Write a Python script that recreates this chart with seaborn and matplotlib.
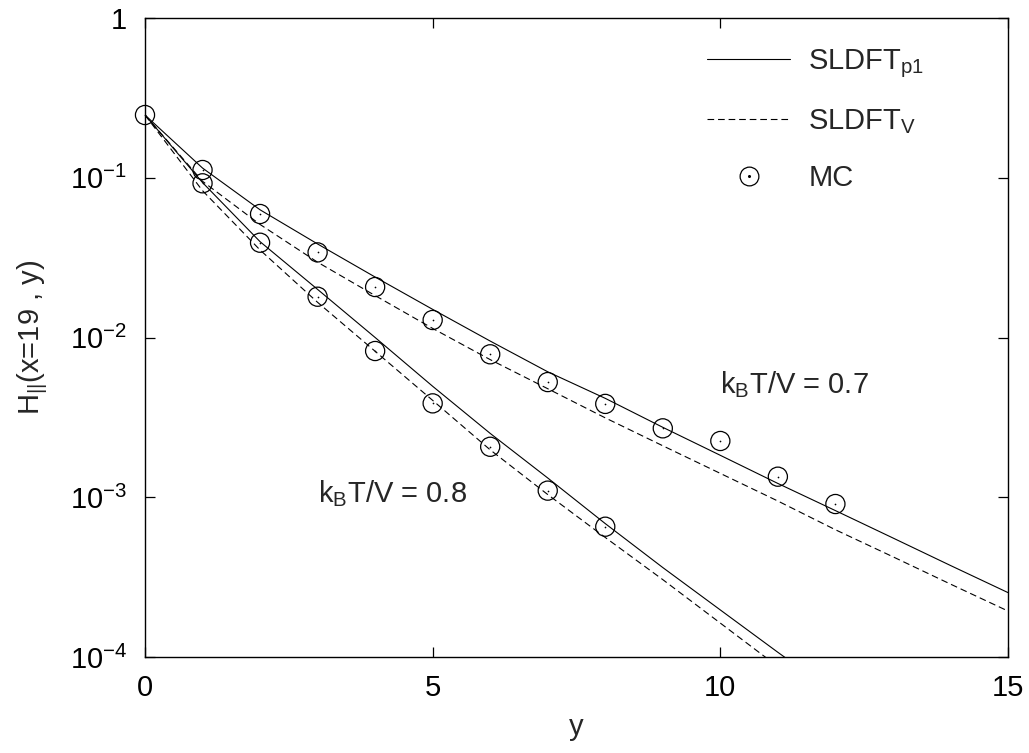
import numpy as np
import pandas as pd
import matplotlib
matplotlib.use("Agg")
import matplotlib.pyplot as plt
import seaborn as sns
from matplotlib.lines import Line2D
from matplotlib.legend_handler import HandlerTuple

# ---------------- data ----------------
y_07 = list(range(0, 16))
p1_07 = [0.247, 0.115, 0.063, 0.0385, 0.0239, 0.0150, 0.0095, 0.0061, 0.00416,
         0.00274, 0.00183, 0.00122, 0.000825, 0.000556, 0.000374, 0.000253]
v_07 = [0.247, 0.095, 0.051, 0.0296, 0.0183, 0.0114, 0.00727, 0.00478, 0.00314,
        0.0021, 0.00141, 0.000947, 0.000626, 0.000424, 0.000286, 0.000194]

y_08 = list(range(0, 13))
p1_08 = [0.247, 0.0933, 0.0398, 0.020, 0.0100, 0.00495, 0.00251, 0.00132,
         0.000684, 0.000363, 0.000197, 0.000107, 0.0000589]
v_08 = [0.247, 0.083, 0.0353, 0.0166, 0.0082, 0.00404, 0.00198, 0.00104,
        0.00056, 0.000305, 0.000163, 0.0000871, 0.000046]

mc_y_07 = list(range(0, 13))
mc_07 = [0.247, 0.1118, 0.0593, 0.0341, 0.0207, 0.01287, 0.00785, 0.00526,
         0.00384, 0.0027, 0.00225, 0.001345, 0.000907]
mc_y_08 = list(range(1, 9))
mc_08 = [0.0923, 0.0392, 0.0180, 0.00823, 0.00387, 0.00207, 0.0011, 0.000654]

xticks = [0, 5, 10, 15]
yticks = [1e-4, 1e-3, 1e-2, 1e-1, 1]
ytick_labels = [r"$\mathregular{10^{-4}}$", r"$\mathregular{10^{-3}}$",
                r"$\mathregular{10^{-2}}$", r"$\mathregular{10^{-1}}$", "1"]

# ---------------- frames ----------------
lines = pd.concat([
    pd.DataFrame({"y": y_07, "H": p1_07, "model": "p1", "T": "0.7"}),
    pd.DataFrame({"y": y_07, "H": v_07, "model": "V", "T": "0.7"}),
    pd.DataFrame({"y": y_08, "H": p1_08, "model": "p1", "T": "0.8"}),
    pd.DataFrame({"y": y_08, "H": v_08, "model": "V", "T": "0.8"}),
], ignore_index=True)
lines["series"] = lines["model"] + "_" + lines["T"]

mc = pd.concat([
    pd.DataFrame({"y": mc_y_07, "H": mc_07, "T": "0.7"}),
    pd.DataFrame({"y": mc_y_08, "H": mc_08, "T": "0.8"}),
], ignore_index=True)

# ---------------- style ----------------
sns.set_style("ticks")
plt.rcParams["font.family"] = ["Liberation Sans", "DejaVu Sans"]
plt.rcParams["mathtext.fontset"] = "custom"
plt.rcParams["mathtext.rm"] = "Liberation Sans"
plt.rcParams["mathtext.it"] = "Liberation Sans"
plt.rcParams["axes.unicode_minus"] = True

FS = 21
fig = plt.figure(figsize=(10.29, 7.53), dpi=100)
ax = fig.add_axes([145 / 1029, 1 - 657 / 753, (1008 - 145) / 1029, (657 - 18) / 753])

sns.lineplot(data=lines, x="y", y="H", style="model", units="series",
             estimator=None, sort=True, color="black", linewidth=0.8,
             dashes={"p1": "", "V": (6, 3.5)}, legend=False, ax=ax)

sns.scatterplot(data=mc, x="y", y="H", marker="o", s=190, facecolor="none",
                edgecolor="black", linewidth=0.9, legend=False, ax=ax, clip_on=False,
                zorder=5)
sns.scatterplot(data=mc, x="y", y="H", marker="o", s=1.5, color="black",
                linewidth=0, legend=False, ax=ax, clip_on=False, zorder=6)

ax.set_yscale("log")
ax.set_xlim(0, 15)
ax.set_ylim(1e-4, 1)
ax.set_xticks(xticks)
ax.set_xticklabels([str(t) for t in xticks])
ax.set_yticks(yticks)
ax.set_yticklabels(ytick_labels)
ax.minorticks_off()
ax.yaxis.set_minor_locator(matplotlib.ticker.NullLocator())
ax.tick_params(which="major", direction="in", length=7, width=0.9,
               top=True, right=True, labelsize=FS, colors="black")
ax.tick_params(axis="x", pad=12)
ax.tick_params(axis="y", pad=13)
for s in ax.spines.values():
    s.set_linewidth(1.0)
    s.set_color("black")
    s.set_visible(True)

ax.set_xlabel("y", fontsize=FS, labelpad=8)
ax.set_ylabel(r"H$\mathregular{_{||}}$(x=19 , y)", fontsize=FS, labelpad=14)

ax.text(10.0, 0.00505, r"k$\mathregular{_B}$T/V = 0.7", fontsize=FS,
        va="center", ha="left")
ax.text(3.0, 0.00106, r"k$\mathregular{_B}$T/V = 0.8", fontsize=FS,
        va="center", ha="left")

h1 = Line2D([], [], color="black", linewidth=0.8)
h2 = Line2D([], [], color="black", linewidth=0.8, dashes=(6, 3.5))
h3a = Line2D([], [], marker="o", markersize=13.5, markerfacecolor="none",
             markeredgecolor="black", markeredgewidth=0.9, linestyle="none")
h3b = Line2D([], [], marker="o", markersize=1.2, color="black", linestyle="none")
leg = fig.legend([h1, h2, (h3a, h3b)],
                 [r"SLDFT$\mathregular{_{p1}}$", r"SLDFT$\mathregular{_V}$", "MC"],
                 handler_map={tuple: HandlerTuple(ndivide=1)},
                 loc="upper left", bbox_to_anchor=(707 / 1029, 1 - 47 / 753),
                 frameon=False, fontsize=FS, handlelength=2.86, handletextpad=0.62,
                 labelspacing=0.95, borderpad=0, borderaxespad=0)

fig.savefig("out.png", dpi=100, facecolor="white")
